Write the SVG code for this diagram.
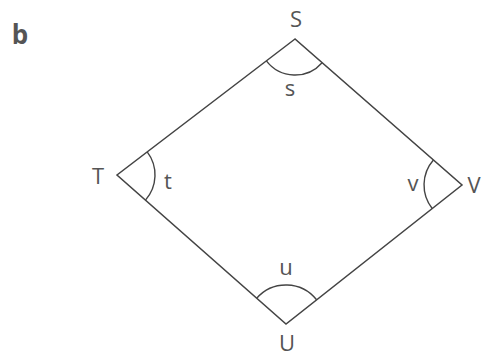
<svg xmlns="http://www.w3.org/2000/svg" width="482" height="357" viewBox="0 0 482 357">
<style>
.lbl{font-family:"Open Sans","Liberation Sans",sans-serif;fill:#555;font-size:22px;text-anchor:middle}
.edge{stroke:#444;stroke-width:1.5;fill:none}
.arc{stroke:#444;stroke-width:1.4;fill:none}
</style>
<rect width="482" height="357" fill="#fff"/>
<text x="20" y="44" style="font-family:'Open Sans','Liberation Sans',sans-serif;font-weight:bold;font-size:26px;fill:#555;text-anchor:middle">b</text>
<g id="connectors">
<path class="edge" d="M295,39 L117,175 L286,324 L462,185 Z"/>
</g>
<g id="S">
<text class="lbl" x="296" y="27">S</text>
<path class="arc" d="M266.4,60.9 A36,36 0 0 0 322.1,62.7"/>
<text class="lbl" x="290" y="96">s</text>
</g>
<g id="T">
<text class="lbl" x="98" y="184">T</text>
<path class="arc" d="M147.2,151.9 A38,38 0 0 1 145.5,200.1"/>
<text class="lbl" x="168" y="189">t</text>
</g>
<g id="U">
<text class="lbl" x="287" y="351">U</text>
<path class="arc" d="M256.7,298.2 A39,39 0 0 1 316.6,299.8"/>
<text class="lbl" x="286" y="275">u</text>
</g>
<g id="V">
<text class="lbl" x="474" y="193">V</text>
<path class="arc" d="M433.4,160.0 A38,38 0 0 0 432.2,208.5"/>
<text class="lbl" x="413" y="191">v</text>
</g>
</svg>
